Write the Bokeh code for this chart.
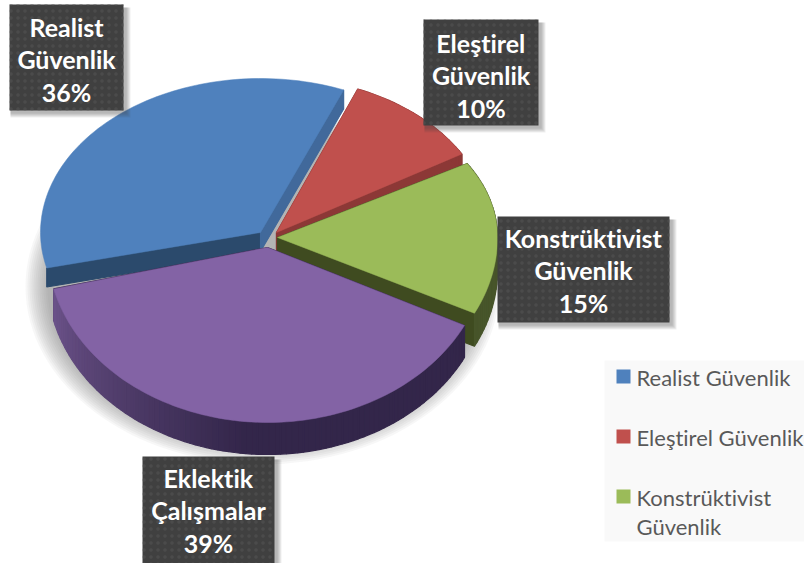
import math
from bokeh.embed import file_html
from bokeh.models import Range1d
from bokeh.plotting import figure
from bokeh.resources import INLINE
from bokeh.core.properties import value

categories = ["Realist Güvenlik", "Eleştirel Güvenlik", "Konstrüktivist Güvenlik", "Eklektik Çalışmalar"]
shares = [36, 10, 15, 39]
label_lines = [["Realist", "Güvenlik", "36%"], ["Eleştirel", "Güvenlik", "10%"],
               ["Konstrüktivist", "Güvenlik", "15%"], ["Eklektik", "Çalışmalar", "39%"]]
legend_lines = [["Realist Güvenlik"], ["Eleştirel Güvenlik"], ["Konstrüktivist", "Güvenlik"]]

top_colors = ["#4f81bd", "#c0504d", "#9bbb59", "#8363a5"]
cut_colors = [("#2b4a6c", "#41699b"), ("#8c3836", "#8c3836"), ("#3f4b20", "#3f4b20"), ("#35274a", "#35274a")]
# apex x, apex y, rx, back ry, front ry, depth
geom = [(260, 232, 220, 154, 150, 19), (276, 232, 215, 155, 150, 18),
        (277, 237, 220, 146, 170, 33), (267, 247, 220, 175, 175, 32)]
START = -104.5

p = figure(width=804, height=563, output_backend="svg", toolbar_location=None,
           x_range=Range1d(0, 804), y_range=Range1d(563, 0), min_border=0,
           outline_line_color=None, background_fill_color="white", border_fill_color="white",
           styles={"font-variant-ligatures": "none"})
p.axis.visible = False
p.grid.visible = False


def warp(t):
    return t - 3.2 * math.cos(math.radians(t))


def rim(g, t, dy=0):
    cx, cy, rx, rb, rf, _ = g
    a = math.radians(t)
    c = math.cos(a)
    return cx + rx * math.sin(a), cy - (rb if c >= 0 else rf) * c + dy


def mix(a, b, f):
    ca = [int(a[i:i + 2], 16) for i in (1, 3, 5)]
    cb = [int(b[i:i + 2], 16) for i in (1, 3, 5)]
    return "#%02x%02x%02x" % tuple(round(x + (y - x) * f) for x, y in zip(ca, cb))


def wall_color(i, t):
    if i == 3:
        tt = t if t > 0 else t + 360
        f = min(1, max(0, (256 - tt) / 70))
        return mix("#6b5289", "#33264a", f)
    if i == 1:
        return "#8c3836"
    return "#47552a"


# soft shadow beneath the pie
for k in range(12):
    p.ellipse(x=262, y=286, width=474 - k * 4, height=356 - k * 4, fill_color="#707070", fill_alpha=0.06,
              line_color=None)

edges = [START]
for s in shares:
    edges.append(edges[-1] + s * 3.6)

for i, g in enumerate(geom):
    t0, t1 = warp(edges[i]), warp(edges[i + 1])
    d = g[5]
    n = max(6, int((t1 - t0) / 1.5))
    ts = [t0 + (t1 - t0) * j / n for j in range(n + 1)]
    xs, ys, cs = [], [], []
    # straight cut faces
    for t, col in ((t0, cut_colors[i][0]), (t1, cut_colors[i][1])):
        ex, ey = rim(g, t)
        xs.append([g[0], ex, ex, g[0]])
        ys.append([g[1], ey, ey + d, g[1] + d])
        cs.append(col)
    # outer wall (the blue slice shows none in the reference)
    if i != 0:
        for a, b in zip(ts[:-1], ts[1:]):
            ax, ay = rim(g, a)
            bx, by = rim(g, b)
            xs.append([ax, bx, bx, ax])
            ys.append([ay, by, by + d, ay + d])
            cs.append(wall_color(i, (a + b) / 2))
    p.patches(xs, ys, fill_color=cs, line_color=cs, line_width=1.2)
    # top face
    pts = [rim(g, t) for t in ts]
    p.patch([g[0]] + [q[0] for q in pts], [g[1]] + [q[1] for q in pts], fill_color=top_colors[i],
            line_color=top_colors[i], line_width=0.5)

# data labels
boxes = [(9, 123, 4, 110, 26.5), (423, 538, 19, 125, 42.5), (497, 669, 216, 322, 237.5), (142, 274, 456, 570, 477.5)]
for (l, r, t, b, y0), lines in zip(boxes, label_lines):
    for k in range(5):
        p.quad(left=l + 1, right=r + 3 + k, top=t + 3, bottom=b + 3 + k, fill_color="#404040", fill_alpha=0.09,
               line_color=None)
    p.quad(left=l, right=r, top=t, bottom=b, fill_color="#404040", line_color=None,
           hatch_pattern="dot", hatch_color="#505050", hatch_scale=7, hatch_weight=1.2, hatch_alpha=0.7)
    for j, line in enumerate(lines):
        p.text(x=[(l + r) / 2], y=[y0 + j * 32.3], text=[line], text_color="white", text_align="center",
               text_baseline="middle", text_font=value("Lato"), text_font_style="bold", text_font_size="25px")

# legend
p.quad(left=604, right=804, top=360, bottom=541, fill_color="#f9f9f9", line_color=None)
for i, lines in enumerate(legend_lines):
    yc = 376 + i * 60
    p.quad(left=616, right=630, top=yc - 7, bottom=yc + 7, fill_color=top_colors[i], line_color=None)
    for j, line in enumerate(lines):
        p.text(x=[636], y=[yc + 1 + j * 29], text=[line], text_color="#595959", text_align="left",
               text_baseline="middle", text_font=value("Lato"), text_font_size="22px")

open("out.html", "w", encoding="utf-8").write(file_html(p, INLINE))
